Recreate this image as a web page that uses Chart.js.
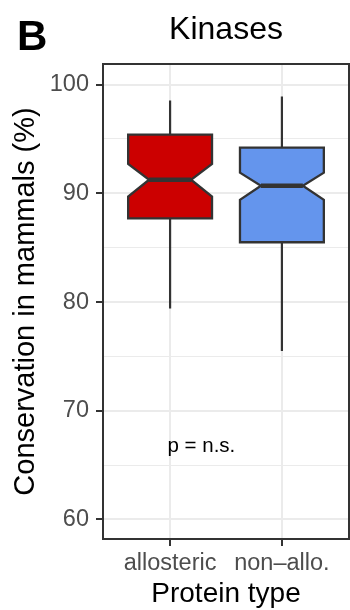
<!DOCTYPE html>
<html>
<head>
<meta charset="utf-8">
<script src="https://cdn.jsdelivr.net/npm/chart.js@4.4.1/dist/chart.umd.min.js"></script>
<style>
  html, body { margin: 0; padding: 0; background: #ffffff; }
  canvas { display: block; }
</style>
</head>
<body>
<canvas id="chart" width="350" height="610"></canvas>
<script>
// Box statistics per protein type (conservation in mammals, %)
const categories  = ['allosteric', 'non\u2013allo.'];
const whiskerLow  = [79.4, 75.5];
const q1          = [87.7, 85.5];
const median      = [91.25, 90.7];
const q3          = [95.4, 94.2];
const whiskerHigh = [98.55, 98.9];
const notchLow    = [89.7, 89.4];
const notchHigh   = [92.7, 91.9];

// Axis ticks
const yMajorTicks = [60, 70, 80, 90, 100];
const yMinorTicks = [65, 75, 85, 95];

// Significance note
const noteText = 'p = n.s.';
const noteX = 1.28;
const noteY = 66.7;

const boxColors = ['#CC0000', '#6495ED'];
const FONT = '"Liberation Sans", Arial, Helvetica, sans-serif';
const INK = '#333333';
const BOX_WIDTH = 0.75;   // in category units
const NOTCH_WIDTH = 0.5;  // notch width relative to box width

const isMajor = v => yMajorTicks.includes(v);

const notchedBoxes = {
  id: 'notchedBoxes',
  afterDatasetsDraw(chart) {
    const { ctx, chartArea, scales: { x, y } } = chart;
    ctx.save();
    ctx.lineJoin = 'miter';
    ctx.lineCap = 'butt';
    categories.forEach((cat, i) => {
      const pos = i + 1;
      const cx = x.getPixelForValue(pos);
      const left = x.getPixelForValue(pos - BOX_WIDTH / 2);
      const right = x.getPixelForValue(pos + BOX_WIDTH / 2);
      const indent = (1 - NOTCH_WIDTH) * (right - left) / 2;
      const yLo = y.getPixelForValue(whiskerLow[i]);
      const yQ1 = y.getPixelForValue(q1[i]);
      const yMed = y.getPixelForValue(median[i]);
      const yQ3 = y.getPixelForValue(q3[i]);
      const yHi = y.getPixelForValue(whiskerHigh[i]);
      const yNL = y.getPixelForValue(notchLow[i]);
      const yNH = y.getPixelForValue(notchHigh[i]);

      // whiskers
      ctx.strokeStyle = INK;
      ctx.lineWidth = 2.2;
      ctx.beginPath();
      ctx.moveTo(cx, yQ3); ctx.lineTo(cx, yHi);
      ctx.moveTo(cx, yQ1); ctx.lineTo(cx, yLo);
      ctx.stroke();

      // notched box
      ctx.beginPath();
      ctx.moveTo(left, yQ3);
      ctx.lineTo(left, yNH);
      ctx.lineTo(left + indent, yMed);
      ctx.lineTo(left, yNL);
      ctx.lineTo(left, yQ1);
      ctx.lineTo(right, yQ1);
      ctx.lineTo(right, yNL);
      ctx.lineTo(right - indent, yMed);
      ctx.lineTo(right, yNH);
      ctx.lineTo(right, yQ3);
      ctx.closePath();
      ctx.fillStyle = boxColors[i];
      ctx.fill();
      ctx.lineWidth = 2.3;
      ctx.stroke();

      // median
      ctx.beginPath();
      ctx.lineWidth = 4.4;
      ctx.moveTo(left + indent, yMed);
      ctx.lineTo(right - indent, yMed);
      ctx.stroke();
    });

    // note
    ctx.fillStyle = '#000000';
    ctx.font = `20.5px ${FONT}`;
    ctx.textAlign = 'center';
    ctx.textBaseline = 'middle';
    ctx.fillText(noteText, x.getPixelForValue(noteX), y.getPixelForValue(noteY));

    // panel border
    ctx.strokeStyle = INK;
    ctx.lineWidth = 2;
    ctx.strokeRect(chartArea.left, chartArea.top,
                   chartArea.right - chartArea.left, chartArea.bottom - chartArea.top);
    ctx.restore();
  },
  afterDraw(chart) {
    const { ctx, chartArea } = chart;
    ctx.save();
    ctx.fillStyle = '#000000';
    ctx.textBaseline = 'alphabetic';
    ctx.textAlign = 'center';
    ctx.font = `32px ${FONT}`;
    ctx.fillText('Kinases', (chartArea.left + chartArea.right) / 2, 39);
    ctx.textAlign = 'left';
    ctx.font = `bold 42px ${FONT}`;
    ctx.fillText('B', 17, 50);
    ctx.restore();
  }
};

new Chart(document.getElementById('chart'), {
  type: 'scatter',
  data: { datasets: [] },
  options: {
    responsive: false,
    animation: false,
    devicePixelRatio: 1,
    layout: { padding: { top: 64, right: 1, bottom: 0, left: 0 } },
    plugins: {
      legend: { display: false },
      tooltip: { enabled: false },
      title: { display: false }
    },
    scales: {
      x: {
        type: 'linear',
        position: 'bottom',
        min: 0.4,
        max: 2.6,
        afterBuildTicks: s => { s.ticks = categories.map((_, i) => ({ value: i + 1 })); },
        afterFit: s => { s.height = 71; },
        ticks: {
          callback: v => categories[v - 1] ?? '',
          color: '#4D4D4D',
          font: { family: FONT, size: 23.5 },
          padding: 3,
          maxRotation: 0,
          autoSkip: false
        },
        grid: {
          color: '#EBEBEB',
          lineWidth: 2,
          tickLength: 7,
          tickColor: INK,
          tickWidth: 2
        },
        border: { display: false },
        title: {
          display: true,
          text: 'Protein type',
          color: '#000000',
          font: { family: FONT, size: 28, lineHeight: 1 },
          padding: { top: 0, bottom: 2 }
        }
      },
      y: {
        type: 'linear',
        position: 'left',
        min: 58.2,
        max: 101.9,
        afterBuildTicks: s => {
          s.ticks = [...yMajorTicks, ...yMinorTicks].sort((a, b) => a - b).map(v => ({ value: v }));
        },
        afterFit: s => { s.width = 103; },
        ticks: {
          callback: v => (isMajor(v) ? String(v) : ''),
          color: '#4D4D4D',
          font: { family: FONT, size: 23.5 },
          padding: 7,
          autoSkip: false
        },
        grid: {
          color: '#EBEBEB',
          lineWidth: c => (isMajor(c.tick.value) ? 2 : 1.1),
          tickLength: 7,
          tickColor: c => (isMajor(c.tick.value) ? INK : 'rgba(0,0,0,0)'),
          tickWidth: 2
        },
        border: { display: false },
        title: {
          display: true,
          text: 'Conservation in mammals (%)',
          color: '#000000',
          font: { family: FONT, size: 29, lineHeight: 1 },
          padding: { top: 11, bottom: 0 }
        }
      }
    }
  },
  plugins: [notchedBoxes]
});
</script>
</body>
</html>
